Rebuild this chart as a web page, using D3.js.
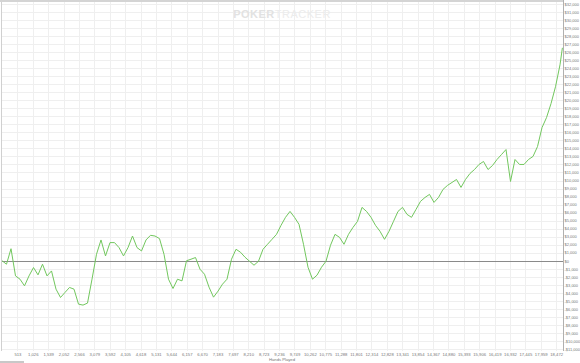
<!DOCTYPE html>
<html>
<head>
<meta charset="utf-8">
<script src="https://cdn.jsdelivr.net/npm/d3@7"></script>
<style>
  body { margin: 0; background: #fff; }
  svg { display: block; font-family: "Liberation Sans", Arial, sans-serif; }
</style>
</head>
<body>
<div id="chart"></div>
<script>
// cumulative winnings, one reading every 150 hands
const handStep = 150;
const winnings = [
    0, -430, 1500, -1890, -2300, -3130, -1890, -850, -1760, -435,
    -1890, -1270, -3540, -4580, -3950, -3330, -3540, -5410, -5530, -5280,
    -2300, 810, 2590, 600, 2260, 2260, 1640, 600, 1640, 3080,
    1640, 1220, 2590, 3170, 3080, 2760, 810, -2300, -3460, -2300,
    -2510, 0, 190, 400, -1060, -1680, -3290, -4540, -3790, -2920,
    -2300, 190, 1430, 1060, 440, -60, -560, -60, 1430, 2050,
    2670, 3290, 4410, 5410, 6150, 5410, 4540, 2050, -810, -2300,
    -1800, -810, -60, 1930, 3290, 2920, 2050, 3290, 4160, 4910,
    6650, 6150, 5410, 4410, 3670, 2670, 3670, 4910, 6150, 6650,
    5780, 5410, 6400, 7400, 7890, 8270, 7270, 7890, 8890, 9390,
    9760, 10130, 9140, 10130, 10880, 11370, 12000, 12370, 11370, 11870,
    12620, 13240, 13860, 9880, 12620, 12000, 12000, 12620, 13000, 14230,
    16590, 17840, 19580, 21690, 24420
];
const finalHand = 18680;
const finalWinnings = 26540;

const xTickStep = 513.1;
const xTickCount = 36;
const yTickValues = d3.range(-11000, 32001, 1000);

const width = 580, height = 363;
const plot = { left: 2, right: 563, top: 2, bottom: 351 };
const labelSize = "4.2px";

const points = winnings.map((v, i) => ({ hand: i*handStep, won: v }));
points.push({ hand: finalHand, won: finalWinnings });

const x = d3.scaleLinear().domain([0, 18700]).range([plot.left, plot.right]);
const y = d3.scaleLinear().domain([-11250, 32250]).range([plot.bottom, plot.top]);

const svg = d3.select("#chart").append("svg")
    .attr("width", width)
    .attr("height", height);

const xTicks = d3.range(1, xTickCount + 1).map(i => i*xTickStep);

// grid
const grid = svg.append("g").attr("id", "grid");
grid.selectAll("line.h").data(yTickValues).join("line")
    .attr("class", "h")
    .attr("x1", plot.left).attr("x2", plot.right)
    .attr("y1", d => Math.round(y(d)) + 0.5).attr("y2", d => Math.round(y(d)) + 0.5)
    .style("stroke", "#efefef");
grid.selectAll("line.v").data(xTicks).join("line")
    .attr("class", "v")
    .attr("y1", plot.top).attr("y2", plot.bottom)
    .attr("x1", d => Math.round(x(d)) + 0.5).attr("x2", d => Math.round(x(d)) + 0.5)
    .style("stroke", "#efefef");

// watermark
const wm = svg.append("text")
    .attr("x", 282).attr("y", 18)
    .attr("text-anchor", "middle")
    .style("font-size", "11px")
    .style("letter-spacing", "0.5px");
wm.append("tspan").text("POKER").style("font-weight", "bold").style("fill", "#e2e2e2");
wm.append("tspan").text("TRACKER").style("fill", "#ececec");

// frame
svg.append("rect").attr("x", 0).attr("y", 0).attr("width", plot.right).attr("height", 2)
    .style("fill", "#d4d4d4");
svg.append("line")
    .attr("x1", plot.left - 0.5).attr("x2", plot.left - 0.5)
    .attr("y1", plot.top).attr("y2", plot.bottom)
    .style("stroke", "#d0d0d0");
svg.append("line")
    .attr("x1", plot.right + 0.5).attr("x2", plot.right + 0.5)
    .attr("y1", 0).attr("y2", plot.bottom)
    .style("stroke", "#b0b0b0");

// zero line
svg.append("line")
    .attr("x1", plot.left).attr("x2", plot.right)
    .attr("y1", Math.round(y(0)) + 0.5).attr("y2", Math.round(y(0)) + 0.5)
    .style("stroke", "#8a8a8a");

// winnings line
const line = d3.line().x(d => x(d.hand)).y(d => y(d.won));
svg.append("path")
    .datum(points)
    .attr("d", line)
    .style("fill", "none")
    .style("stroke", "#72c75e")
    .style("stroke-width", 1);

// axes
const money = v => (v < 0 ? "-$" : "$") + d3.format(",")(Math.abs(v));
const yAxis = svg.append("g")
    .attr("transform", `translate(${plot.right},0)`)
    .call(d3.axisRight(y).tickValues(yTickValues).tickFormat(money).tickSize(0).tickPadding(1.5));
yAxis.select(".domain").remove();
yAxis.selectAll("text").style("font-size", "4px").style("fill", "#777");

const xAxis = svg.append("g")
    .attr("transform", `translate(0,${plot.bottom})`)
    .call(d3.axisBottom(x).tickValues(xTicks).tickFormat(d => d3.format(",")(Math.round(d))).tickSize(0).tickPadding(2));
xAxis.select(".domain").remove();
xAxis.selectAll("text").style("font-size", labelSize).style("fill", "#777");

svg.append("text")
    .attr("x", 282).attr("y", 361)
    .attr("text-anchor", "middle")
    .style("font-size", labelSize)
    .style("fill", "#777")
    .text("Hands Played");

svg.append("rect").attr("x", 0).attr("y", 361).attr("width", 24).attr("height", 2)
    .style("fill", "#c8c8c8");
</script>
</body>
</html>
